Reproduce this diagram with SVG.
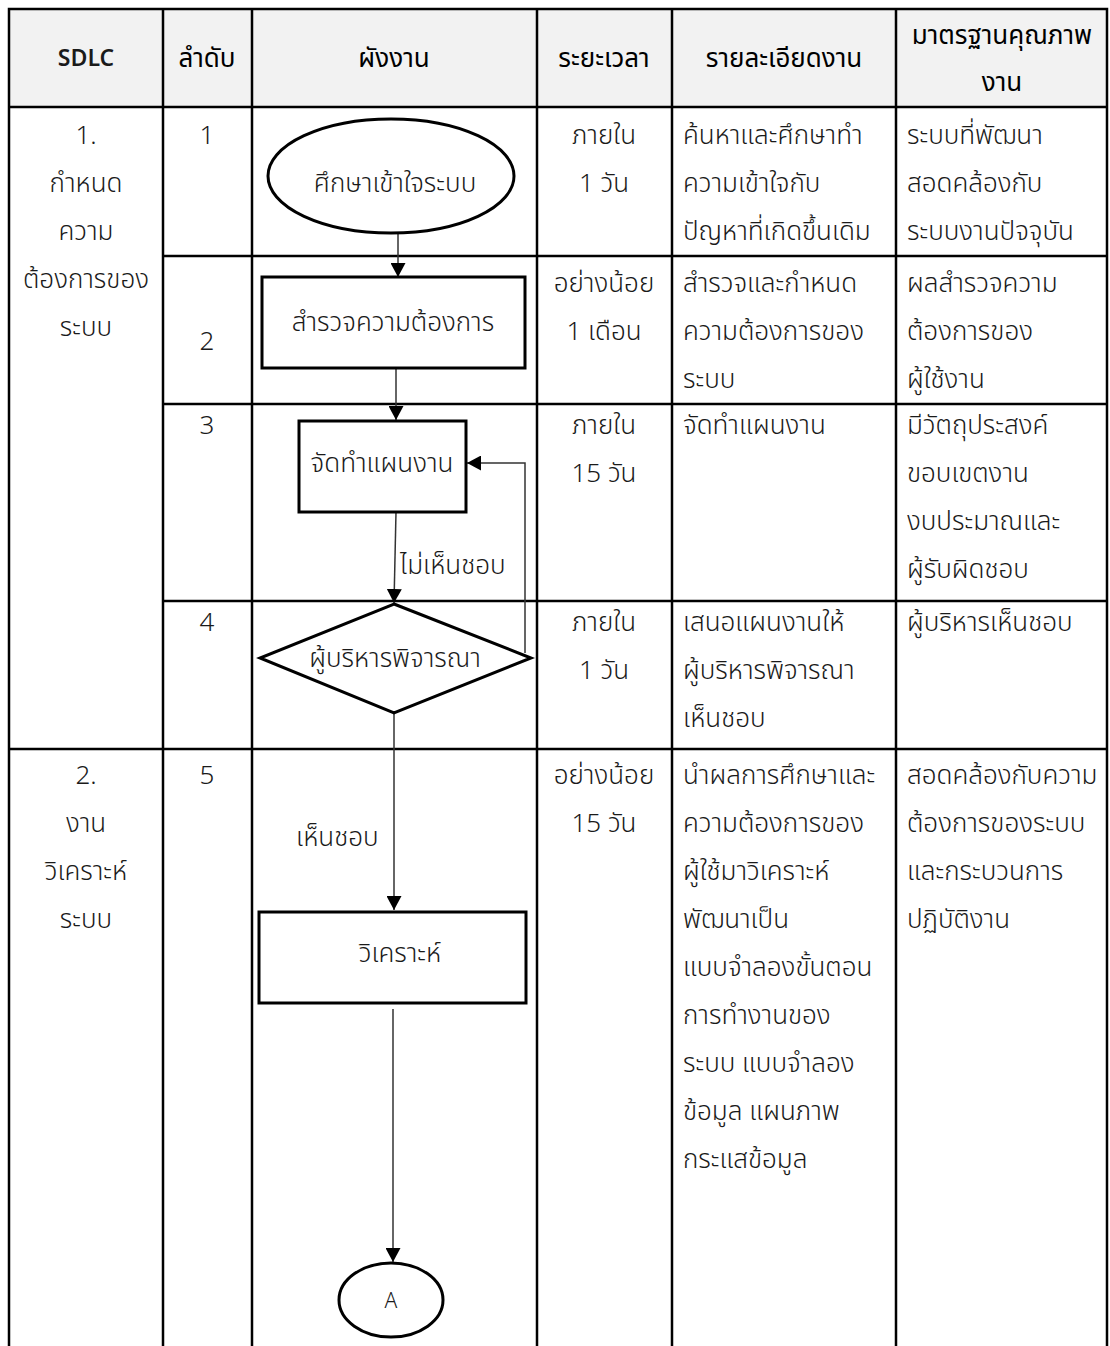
<svg xmlns="http://www.w3.org/2000/svg" width="1110" height="1346" viewBox="0 0 1110 1346">
<style>
text{font-family:"Noto Sans Thai","Noto Sans","Liberation Sans",sans-serif;font-size:26px;font-weight:300;fill:#1a1a1a}
.h{font-weight:400;fill:#000}
.s{font-size:23px;font-weight:600}
.c{text-anchor:middle}
.a{font-size:21px}
.grid{stroke:#000;stroke-width:2.5;fill:none}
.shape{stroke:#000;stroke-width:3;fill:#fff}
.conn{stroke:#333;stroke-width:1.5;fill:none}
</style>
<defs>
<marker id="arr" viewBox="0 0 14 15" refX="14" refY="7.5" markerWidth="14" markerHeight="15" markerUnits="userSpaceOnUse" orient="auto">
<path d="M0,0 L14,7.5 L0,15 Z" fill="#000"/>
</marker>
</defs>
<rect x="0" y="0" width="1110" height="1346" fill="#fff"/>
<g id="table">
<rect x="9" y="9" width="1098" height="98" fill="#f2f2f2"/>
<path class="grid" d="M9,1346 V9 H1107 V1346 M163,9 V1346 M252,9 V1346 M537,9 V1346 M672,9 V1346 M896,9 V1346 M9,107 H1107 M163,256 H1107 M163,404 H1107 M163,601 H1107 M9,749 H1107"/>
</g>
<g id="header">
<text class="s c" x="86" y="66">SDLC</text>
<text class="h c" x="207" y="67">ลำดับ</text>
<text class="h c" x="394" y="67">ผังงาน</text>
<text class="h c" x="604" y="67">ระยะเวลา</text>
<text class="h c" x="784" y="67">รายละเอียดงาน</text>
<text class="h c" x="1002" y="44">มาตรฐานคุณภาพ</text>
<text class="h c" x="1002" y="91">งาน</text>
</g>
<g id="col-sdlc">
<text class="c" x="86" y="144">1.</text>
<text class="c" x="86" y="192">กำหนด</text>
<text class="c" x="86" y="240">ความ</text>
<text class="c" x="86" y="288">ต้องการของ</text>
<text class="c" x="86" y="336">ระบบ</text>
<text class="c" x="86" y="784">2.</text>
<text class="c" x="86" y="832">งาน</text>
<text class="c" x="86" y="880">วิเคราะห์</text>
<text class="c" x="86" y="928">ระบบ</text>
</g>
<g id="col-order">
<text class="c" x="207" y="144">1</text>
<text class="c" x="207" y="350">2</text>
<text class="c" x="207" y="434">3</text>
<text class="c" x="207" y="631">4</text>
<text class="c" x="207" y="784">5</text>
</g>
<g id="col-time">
<text class="c" x="604" y="144">ภายใน</text>
<text class="c" x="604" y="192">1 วัน</text>
<text class="c" x="604" y="292">อย่างน้อย</text>
<text class="c" x="604" y="340">1 เดือน</text>
<text class="c" x="604" y="434">ภายใน</text>
<text class="c" x="604" y="482">15 วัน</text>
<text class="c" x="604" y="631">ภายใน</text>
<text class="c" x="604" y="679">1 วัน</text>
<text class="c" x="604" y="784">อย่างน้อย</text>
<text class="c" x="604" y="832">15 วัน</text>
</g>
<g id="col-detail">
<text x="683" y="144">ค้นหาและศึกษาทำ</text>
<text x="683" y="192">ความเข้าใจกับ</text>
<text x="683" y="240">ปัญหาที่เกิดขึ้นเดิม</text>
<text x="683" y="292">สำรวจและกำหนด</text>
<text x="683" y="340">ความต้องการของ</text>
<text x="683" y="388">ระบบ</text>
<text x="683" y="434">จัดทำแผนงาน</text>
<text x="683" y="631">เสนอแผนงานให้</text>
<text x="683" y="679">ผู้บริหารพิจารณา</text>
<text x="683" y="727">เห็นชอบ</text>
<text x="683" y="784">นำผลการศึกษาและ</text>
<text x="683" y="832">ความต้องการของ</text>
<text x="683" y="880">ผู้ใช้มาวิเคราะห์</text>
<text x="683" y="928">พัฒนาเป็น</text>
<text x="683" y="976">แบบจำลองขั้นตอน</text>
<text x="683" y="1024">การทำงานของ</text>
<text x="683" y="1072">ระบบ แบบจำลอง</text>
<text x="683" y="1120">ข้อมูล แผนภาพ</text>
<text x="683" y="1168">กระแสข้อมูล</text>
</g>
<g id="col-standard">
<text x="907" y="144">ระบบที่พัฒนา</text>
<text x="907" y="192">สอดคล้องกับ</text>
<text x="907" y="240">ระบบงานปัจจุบัน</text>
<text x="907" y="292">ผลสำรวจความ</text>
<text x="907" y="340">ต้องการของ</text>
<text x="907" y="388">ผู้ใช้งาน</text>
<text x="907" y="434">มีวัตถุประสงค์</text>
<text x="907" y="482">ขอบเขตงาน</text>
<text x="907" y="530">งบประมาณและ</text>
<text x="907" y="578">ผู้รับผิดชอบ</text>
<text x="907" y="631">ผู้บริหารเห็นชอบ</text>
<text x="907" y="784">สอดคล้องกับความ</text>
<text x="907" y="832">ต้องการของระบบ</text>
<text x="907" y="880">และกระบวนการ</text>
<text x="907" y="928">ปฏิบัติงาน</text>
</g>
<g id="connectors">
<path class="conn" d="M398,233 L398,277" marker-end="url(#arr)"/>
<path class="conn" d="M396,368 L396,420" marker-end="url(#arr)"/>
<path class="conn" d="M396,512 L394,603" marker-end="url(#arr)"/>
<path class="conn" d="M525,653 L525,463 L467,463" marker-end="url(#arr)"/>
<path class="conn" d="M394,713 L394,910" marker-end="url(#arr)"/>
<path class="conn" d="M393,1009 L393,1262" marker-end="url(#arr)"/>
<text x="400" y="574">ไม่เห็นชอบ</text>
<text x="296" y="846">เห็นชอบ</text>
</g>
<g id="n1">
<ellipse class="shape" cx="391" cy="176" rx="123" ry="57"/>
<text class="c" x="395" y="192">ศึกษาเข้าใจระบบ</text>
</g>
<g id="n2">
<rect class="shape" x="262" y="277" width="263" height="91"/>
<text class="c" x="393" y="331">สำรวจความต้องการ</text>
</g>
<g id="n3">
<rect class="shape" x="299" y="421" width="167" height="91"/>
<text class="c" x="382" y="472">จัดทำแผนงาน</text>
</g>
<g id="n4">
<polygon class="shape" points="394,604 531,658 394,713 260,658"/>
<text class="c" x="395" y="667">ผู้บริหารพิจารณา</text>
</g>
<g id="n5">
<rect class="shape" x="259" y="912" width="267" height="91"/>
<text class="c" x="400" y="962">วิเคราะห์</text>
</g>
<g id="n6">
<ellipse class="shape" cx="391" cy="1300" rx="52" ry="37"/>
<text class="c a" x="391" y="1308">A</text>
</g>
</svg>
